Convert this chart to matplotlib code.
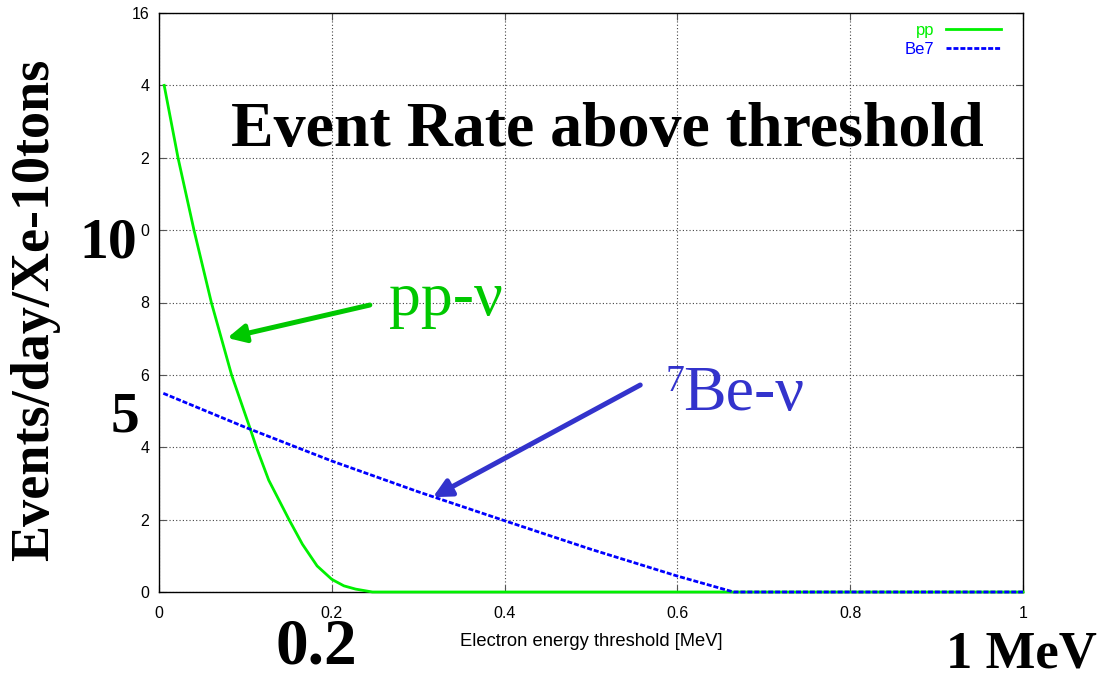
import matplotlib.pyplot as plt
import numpy as np

W, H = 1106, 673

# event rate above threshold [events/day/Xe-10tons] vs threshold energy [MeV]
pp_e = [0.006, 0.022, 0.0405, 0.0606, 0.084, 0.106, 0.1127, 0.127, 0.1505,
        0.166, 0.183, 0.2, 0.214, 0.2276, 0.247, 1.0]
pp_rate = [14.0, 12.0, 10.0, 8.0, 6.0, 4.48, 4.0, 3.09, 2.0,
           1.32, 0.72, 0.35, 0.17, 0.08, 0.0, 0.0]

be7_e = [0.005, 0.1, 0.2, 0.3, 0.4, 0.5, 0.6, 0.665, 1.0]
be7_rate = [5.49, 4.55, 3.62, 2.77, 1.97, 1.18, 0.44, 0.0, 0.0]

x_ticks = [0, 0.2, 0.4, 0.6, 0.8, 1]
x_tick_labels = ['0', '0.2', '0.4', '0.6', '0.8', '1']
y_ticks = [0, 2, 4, 6, 8, 10, 12, 14, 16]
# the leading "1" of 10/12/14 is hidden under the big labels
y_tick_labels = ['0', '2', '4', '6', '8', '0', '2', '4', '16']

pp_col = '#00f000'
be7_col = '#0000ff'
pp_txt = '#00c800'
be7_txt = '#3333cc'

serif = 'Liberation Serif'
sans = 'Liberation Sans'


def fx(px):
    return px / W


def fy(py):
    return 1 - py / H


fig = plt.figure(figsize=(W / 100, H / 100), dpi=100)
ax = fig.add_axes([159 / W, (H - 592) / H, 864 / W, 579 / H])

ax.plot(pp_e, pp_rate, color=pp_col, lw=2, label='pp', clip_on=False, zorder=3)
ax.plot(be7_e, be7_rate, color=be7_col, lw=2, dashes=(1.8, 0.7), label='Be7',
        clip_on=False, zorder=4)

ax.set_xlim(0, 1)
ax.set_ylim(0, 16)
ax.set_xticks(x_ticks)
ax.set_xticklabels(x_tick_labels)
ax.set_yticks(y_ticks)
ax.set_yticklabels(y_tick_labels)
ax.tick_params(direction='in', length=5, width=0.8, color='#555555',
               top=True, right=True, labelsize=11.5)
ax.tick_params(axis='x', pad=10)
ax.tick_params(axis='y', pad=7)
for lab in ax.get_xticklabels() + ax.get_yticklabels():
    lab.set_family(sans)
ax.grid(True, ls=(0, (1, 2)), color='#444444', lw=0.8)
for s in ax.spines.values():
    s.set_linewidth(1.0)

ax.set_xlabel('Electron energy threshold [MeV]', family=sans, fontsize=13.2,
              labelpad=9)

leg = ax.legend(loc='upper right', bbox_to_anchor=(fx(1001), fy(23)),
                bbox_transform=fig.transFigure, markerfirst=False,
                frameon=False, borderpad=0, borderaxespad=0,
                handlelength=3.3, handletextpad=0.7, labelspacing=0.25,
                prop={'family': sans, 'size': 12})
for t, c in zip(leg.get_texts(), [pp_col, be7_col]):
    t.set_color(c)

# overlaid annotations
fig.text(fx(607), fy(146), 'Event Rate above threshold', family=serif,
         weight='bold', fontsize=46, ha='center', va='baseline')
fig.text(fx(48), fy(310), 'Events/day/Xe-10tons', family=serif, weight='bold',
         fontsize=39, rotation=90, rotation_mode='anchor', ha='center',
         va='baseline')
fig.text(fx(137), fy(257), '10', family=serif, weight='bold', fontsize=41.5,
         ha='right', va='baseline')
fig.text(fx(125), fy(432), '5', family=serif, weight='bold', fontsize=41.5,
         ha='center', va='baseline')
fig.text(fx(316), fy(664), '0.2', family=serif, weight='bold', fontsize=47,
         ha='center', va='baseline')
fig.text(fx(1021), fy(667), '1 MeV', family=serif, weight='bold', fontsize=38,
         ha='center', va='baseline')

ax.annotate('', xy=(0.079, 7.02), xytext=(0.244, 7.93),
            arrowprops=dict(arrowstyle='-|>', color=pp_txt, lw=3.6,
                            mutation_scale=27, shrinkA=0, shrinkB=0))
fig.text(fx(389), fy(315), 'pp-ν', family=serif, fontsize=46, color=pp_txt,
         ha='left', va='baseline')

ax.annotate('', xy=(0.317, 2.62), xytext=(0.557, 5.72),
            arrowprops=dict(arrowstyle='-|>', color=be7_txt, lw=3.6,
                            mutation_scale=27, shrinkA=0, shrinkB=0))
fig.text(fx(666), fy(391), '7', family=serif, fontsize=27, color=be7_txt,
         ha='left', va='baseline')
fig.text(fx(683), fy(410), 'Be-ν', family=serif, fontsize=46, color=be7_txt,
         ha='left', va='baseline')

fig.savefig('out.png', dpi=100)
